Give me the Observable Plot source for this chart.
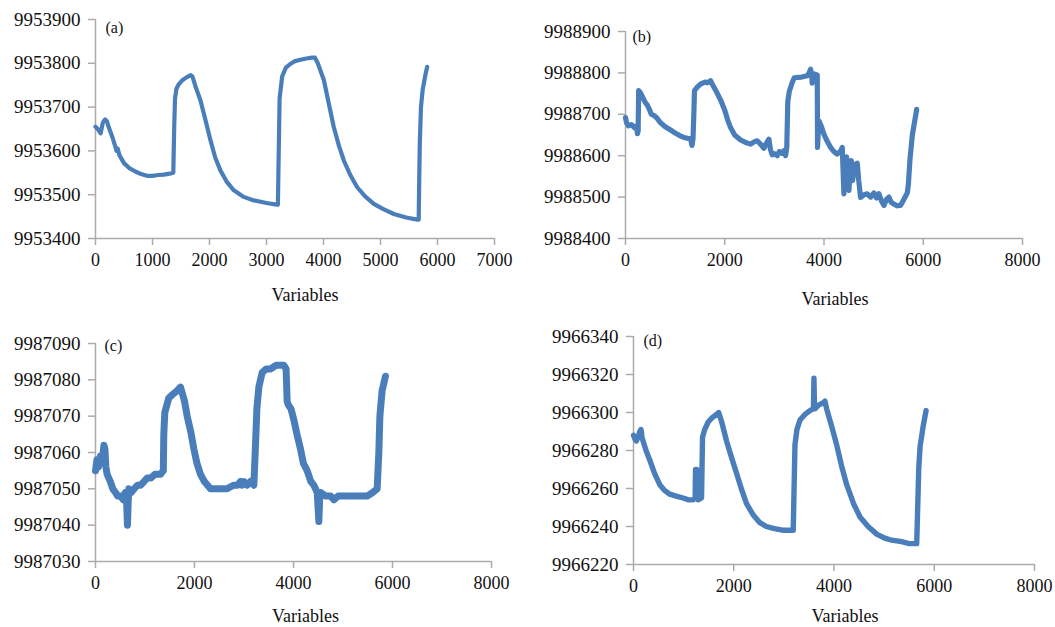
<!DOCTYPE html>
<html><head><meta charset="utf-8">
<script src="https://cdn.jsdelivr.net/npm/d3@7"></script>
<script src="https://cdn.jsdelivr.net/npm/@observablehq/plot@0.6"></script>
<style>
body{margin:0;background:#fff;}
#wrap{position:relative;width:1055px;height:627px;overflow:hidden;background:#fff;}
.panel{position:absolute;}
</style></head><body><div id="wrap"></div>
<script>
// ---------- data ----------
const panelLabels = ["(a)", "(b)", "(c)", "(d)"];
const axisTitle = "Variables";

const aXTicks = [0, 1000, 2000, 3000, 4000, 5000, 6000, 7000];
const aYTicks = [9953400, 9953500, 9953600, 9953700, 9953800, 9953900];
const aX = [0,40,90,130,170,200,230,300,370,390,420,500,600,700,800,900,1000,1100,1200,1300,1365,1380,1395,1420,1460,1530,1610,1670,1700,1760,1842,1930,2018,2100,2193,2300,2427,2600,2778,3000,3150,3200,3215,3230,3275,3340,3421,3500,3596,3700,3800,3850,3900,4006,4090,4181,4270,4357,4470,4591,4730,4883,5050,5234,5450,5643,5670,5680,5690,5710,5740,5790,5819];
const aY = [9953655,9953650,9953640,9953665,9953672,9953668,9953655,9953630,9953600,9953605,9953590,9953572,9953560,9953553,9953547,9953543,9953543,9953545,9953546,9953548,9953550,9953650,9953720,9953742,9953752,9953762,9953769,9953773,9953770,9953745,9953715,9953670,9953624,9953585,9953555,9953530,9953510,9953495,9953487,9953481,9953478,9953477,9953600,9953720,9953770,9953790,9953799,9953805,9953808,9953811,9953813,9953813,9953800,9953762,9953710,9953654,9953612,9953578,9953545,9953517,9953496,9953479,9953467,9953456,9953448,9953443,9953443,9953540,9953620,9953700,9953740,9953775,9953792];

const bXTicks = [0, 2000, 4000, 6000, 8000];
const bYTicks = [9988400, 9988500, 9988600, 9988700, 9988800, 9988900];
const bX = [0,20,60,120,180,220,240,255,265,300,350,400,440,480,520,580,640,700,800,907,1000,1100,1176,1250,1310,1340,1360,1377,1390,1450,1512,1600,1650,1714,1760,1830,1915,2000,2060,2117,2200,2319,2420,2520,2600,2654,2720,2789,2830,2890,2920,2957,3000,3058,3100,3150,3192,3226,3250,3270,3300,3360,3400,3461,3550,3662,3700,3730,3750,3763,3790,3830,3864,3870,3897,3950,3998,4060,4133,4200,4267,4330,4368,4401,4430,4455,4480,4502,4525,4549,4575,4603,4640,4670,4700,4737,4800,4871,4940,5006,5060,5107,5160,5208,5260,5308,5350,5409,5480,5544,5610,5678,5700,5732,5780,5830,5867];
const bY = [9988692,9988680,9988672,9988675,9988668,9988672,9988653,9988660,9988757,9988752,9988740,9988728,9988722,9988712,9988700,9988697,9988690,9988680,9988670,9988662,9988655,9988648,9988644,9988642,9988641,9988625,9988640,9988700,9988757,9988766,9988773,9988778,9988776,9988781,9988770,9988755,9988735,9988710,9988686,9988668,9988650,9988638,9988632,9988628,9988634,9988636,9988628,9988618,9988628,9988640,9988615,9988602,9988605,9988600,9988610,9988606,9988612,9988600,9988620,9988730,9988755,9988777,9988788,9988789,9988790,9988793,9988800,9988809,9988795,9988775,9988798,9988796,9988795,9988620,9988684,9988670,9988652,9988636,9988620,9988610,9988604,9988610,9988620,9988508,9988560,9988597,9988530,9988516,9988560,9988588,9988540,9988563,9988580,9988582,9988540,9988499,9988505,9988508,9988500,9988510,9988498,9988508,9988490,9988480,9988495,9988500,9988488,9988483,9988479,9988480,9988495,9988510,9988530,9988590,9988650,9988685,9988712];

const cXTicks = [0, 2000, 4000, 6000, 8000];
const cYTicks = [9987030, 9987040, 9987050, 9987060, 9987070, 9987080, 9987090];
const cX = [0,30,60,100,140,170,190,210,236,300,350,404,450,505,560,600,630,645,660,673,720,780,850,909,980,1044,1120,1200,1313,1370,1380,1400,1481,1560,1650,1717,1760,1800,1852,1920,1987,2050,2121,2200,2323,2420,2525,2650,2795,2870,2929,2960,3000,3064,3130,3199,3232,3260,3300,3367,3450,3535,3650,3750,3805,3850,3872,3900,3950,4007,4070,4141,4200,4276,4350,4411,4480,4512,4530,4546,4650,4750,4815,4900,5000,5152,5300,5488,5600,5690,5724,5745,5790,5858];
const cY = [9987055,9987058,9987056,9987059,9987058,9987062,9987061,9987056,9987054,9987052,9987050,9987049,9987048,9987048,9987047,9987049,9987046,9987040,9987046,9987050,9987049,9987050,9987051,9987051,9987052,9987053,9987053,9987054,9987054,9987055,9987065,9987071,9987075,9987076,9987077,9987078,9987076,9987074,9987070,9987066,9987061,9987057,9987054,9987052,9987050,9987050,9987050,9987050,9987051,9987051,9987052,9987051,9987052,9987051,9987052,9987051,9987062,9987072,9987078,9987082,9987083,9987083,9987084,9987084,9987084,9987083,9987074,9987073,9987072,9987069,9987065,9987061,9987057,9987055,9987052,9987051,9987049,9987041,9987048,9987049,9987048,9987048,9987047,9987048,9987048,9987048,9987048,9987048,9987049,9987050,9987060,9987070,9987077,9987081];

const dXTicks = [0, 2000, 4000, 6000, 8000];
const dYTicks = [9966220, 9966240, 9966260, 9966280, 9966300, 9966320, 9966340];
const dX = [0,30,58,90,125,150,170,191,250,324,420,524,620,724,850,990,1100,1190,1230,1237,1250,1265,1280,1290,1357,1377,1420,1490,1560,1656,1700,1760,1856,1960,2056,2150,2255,2390,2521,2650,2787,3000,3187,3221,3260,3321,3420,3520,3590,3600,3612,3620,3700,3780,3819,3853,3950,4053,4150,4253,4390,4519,4680,4852,5000,5118,5350,5500,5650,5670,5690,5717,5780,5837];
const dY = [9966288,9966286,9966285,9966287,9966290,9966291,9966287,9966285,9966280,9966275,9966268,9966262,9966259,9966257,9966256,9966255,9966254,9966254,9966255,9966270,9966262,9966270,9966256,9966254,9966255,9966287,9966291,9966295,9966297,9966299,9966300,9966295,9966285,9966276,9966268,9966260,9966252,9966246,9966242,9966240,9966239,9966238,9966238,9966283,9966291,9966296,9966299,9966301,9966302,9966318,9966302,9966302,9966304,9966305,9966306,9966302,9966293,9966283,9966272,9966262,9966252,9966245,9966240,9966236,9966234,9966233,9966232,9966231,9966231,9966250,9966270,9966282,9966293,9966301];

// ---------- layout ----------
const LINE = "#4a7ebb";
const AXIS = "#ababab";
const FONT = "'Liberation Serif','Times New Roman',serif";

const panels = [
  {label: panelLabels[0], xs: aX, ys: aY, xTicks: aXTicks, yTicks: aYTicks, left: 0, top: 0, width: 514, height: 305, mL: 95, mT: 19, mR: 20, mB: 67, sw: 4.2, lab: [10, 8], ttl: [10, 57]},
  {label: panelLabels[1], xs: bX, ys: bY, xTicks: bXTicks, yTicks: bYTicks, left: 530, top: 0, width: 517, height: 310, mL: 95, mT: 31, mR: 25, mB: 72, sw: 5.2, lab: [7, 5], ttl: [11, 61]},
  {label: panelLabels[2], xs: cX, ys: cY, xTicks: cXTicks, yTicks: cYTicks, left: 0, top: 310, width: 516, height: 317, mL: 95, mT: 33, mR: 25, mB: 66, sw: 7, lab: [9, 2], ttl: [12, 55]},
  {label: panelLabels[3], xs: dX, ys: dY, xTicks: dXTicks, yTicks: dYTicks, left: 530, top: 310, width: 524, height: 317, mL: 103, mT: 26, mR: 20, mB: 63, sw: 5.4, lab: [10, 4], ttl: [11, 52]}
];

const wrap = document.getElementById("wrap");
for (const p of panels) {
  const rows = p.xs.map((x, i) => ({x, y: p.ys[i]}));
  const xDom = [p.xTicks[0], p.xTicks[p.xTicks.length - 1]];
  const yDom = [p.yTicks[0], p.yTicks[p.yTicks.length - 1]];
  const chart = Plot.plot({
    width: p.width, height: p.height,
    marginLeft: p.mL, marginTop: p.mT, marginRight: p.mR, marginBottom: p.mB,
    style: {fontFamily: FONT, fontSize: "19px", background: "transparent", color: "#111"},
    x: {domain: xDom},
    y: {domain: yDom},
    marks: [
      Plot.axisY({ticks: p.yTicks, tickSize: 7, tickPadding: 8, stroke: AXIS, strokeWidth: 1.5, fill: "#111", fontSize: 19, tickFormat: d => String(d), label: null}),
      Plot.axisX({ticks: p.xTicks, tickSize: 7, tickPadding: 8, stroke: AXIS, strokeWidth: 1.5, fill: "#111", fontSize: 18, tickFormat: d => String(d), label: null}),
      Plot.ruleX([xDom[0]], {stroke: AXIS, strokeWidth: 1.5}),
      Plot.ruleY([yDom[0]], {stroke: AXIS, strokeWidth: 1.5}),
      Plot.line(rows, {x: "x", y: "y", stroke: LINE, strokeWidth: p.sw, strokeLinejoin: "round", strokeLinecap: "round"}),
      Plot.text([p.label], {text: d => d, frameAnchor: "top-left", textAnchor: "start", lineAnchor: "middle", dx: p.lab[0], dy: p.lab[1], fontSize: 16, fill: "#111"}),
      Plot.text([axisTitle], {text: d => d, frameAnchor: "bottom", lineAnchor: "middle", dx: p.ttl[0], dy: p.ttl[1], fontSize: 18, fill: "#111"})
    ]
  });
  const div = document.createElement("div");
  div.className = "panel";
  div.style.left = p.left + "px";
  div.style.top = p.top + "px";
  div.appendChild(chart);
  wrap.appendChild(div);
}
</script></body></html>
